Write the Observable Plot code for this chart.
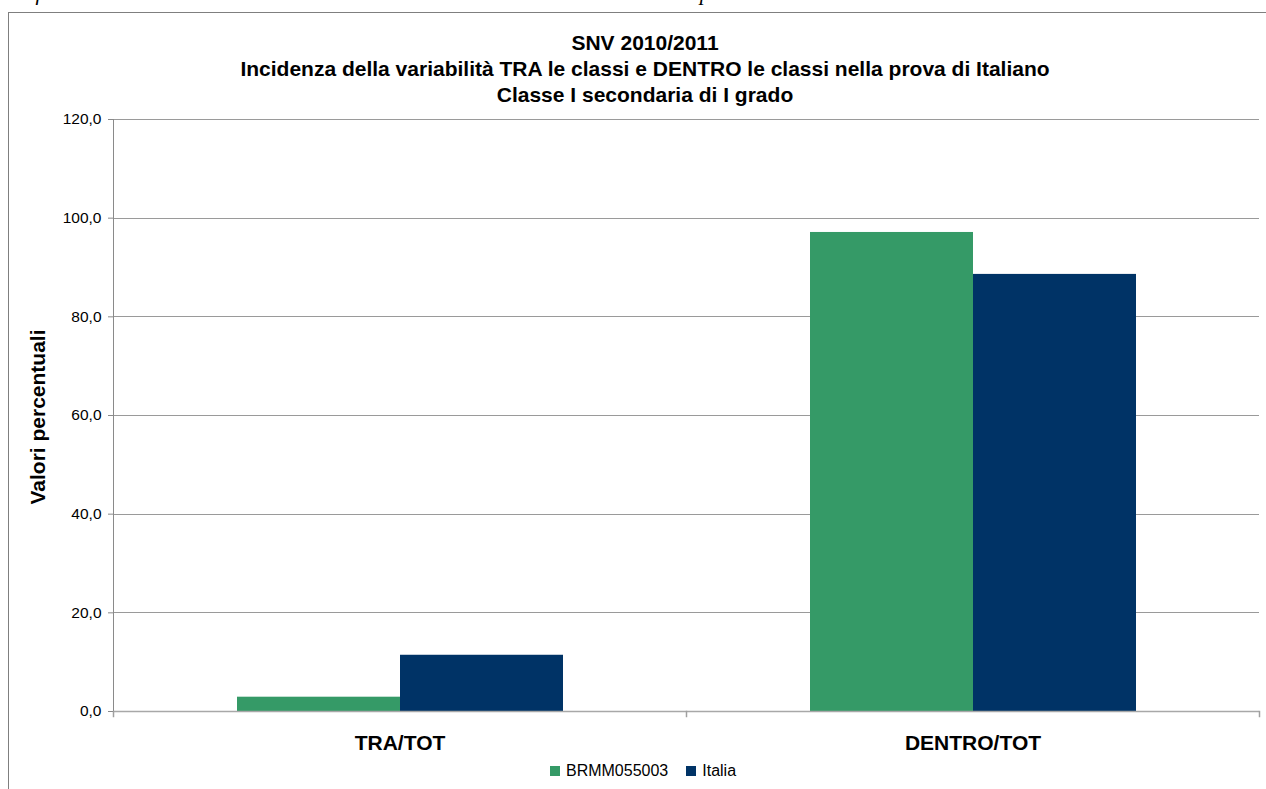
<!DOCTYPE html>
<html><head><meta charset="utf-8">
<script src="https://cdn.jsdelivr.net/npm/d3@7"></script>
<script src="https://cdn.jsdelivr.net/npm/@observablehq/plot@0.6"></script>
<style>
html,body{margin:0;padding:0;background:#fff;overflow:hidden;width:1266px;height:789px;}
body{position:relative;font-family:"Liberation Sans",Arial,sans-serif;color:#000;}
#cap{position:absolute;left:0;top:-18px;font-family:"Liberation Serif",serif;font-style:italic;font-size:22px;line-height:22px;white-space:nowrap;}
#frame{position:absolute;left:8px;top:12px;width:1400px;height:900px;border-left:1px solid #7f7f7f;border-top:1px solid #7f7f7f;}
#chart{position:absolute;left:0;top:0;}
#title{position:absolute;left:0;width:1290px;top:30px;text-align:center;font-weight:bold;font-size:21px;line-height:26px;}
#ytitle{position:absolute;left:38px;top:417px;transform:translate(-50%,-50%) rotate(-90deg);font-weight:bold;font-size:21px;white-space:nowrap;}
#legend{position:absolute;top:761px;left:0;width:1286px;display:flex;justify-content:center;align-items:center;font-size:16px;line-height:20px;}
#legend .item{display:flex;align-items:center;margin:0 9px;}
#legend .sw{width:10px;height:10px;margin-right:6px;}
</style>
</head><body>
<div id="cap"></div>
<div id="frame"></div>
<div id="chart"></div>
<div id="title"></div>
<div id="ytitle"></div>
<div id="legend"></div>
<script>
const captionText = "Grafico 4 – Incidenza della variabilità TRA le classi e DENTRO le classi nella prova di Italiano";
const titleLines = ["SNV 2010/2011", "Incidenza della variabilità TRA le classi e DENTRO le classi nella prova di Italiano", "Classe I secondaria di I grado"];
const yTitle = "Valori percentuali";
const categories = ["TRA/TOT", "DENTRO/TOT"];
const series = ["BRMM055003", "Italia"];
const valuesBRMM = [2.9, 97.1];
const valuesItalia = [11.4, 88.6];
const yTicks = [0, 20, 40, 60, 80, 100, 120];
const seriesColors = ["#359a67", "#003366"];

const seriesValues = [valuesBRMM, valuesItalia];
const data = categories.flatMap((c, i) => series.map((s, j) => ({category: c, series: s, value: seriesValues[j][i]})));

document.getElementById("cap").textContent = captionText;
document.getElementById("title").innerHTML = titleLines.map(t => `<div>${t}</div>`).join("");
document.getElementById("ytitle").textContent = yTitle;
document.getElementById("legend").innerHTML = series.map((s, j) =>
  `<div class="item"><div class="sw" style="background:${seriesColors[j]}"></div><span>${s}</span></div>`).join("");

const W = 1266, H = 789, mT = 119, mB = 78, mL = 113, mR = 7;
const plotH = H - mT - mB;
const fmt = d => d.toFixed(1).replace(".", ",");

const chart = Plot.plot({
  width: W, height: H,
  marginTop: mT, marginBottom: mB, marginLeft: mL, marginRight: mR,
  style: {fontFamily: "Liberation Sans, Arial, sans-serif", fontSize: "15.5px", background: "transparent", overflow: "visible", color: "#000"},
  fx: {domain: categories, padding: 0, label: null},
  x: {domain: series, paddingInner: 0, paddingOuter: 0.747, axis: null},
  y: {domain: [0, 120], label: null},
  color: {domain: series, range: seriesColors},
  marks: [
    Plot.ruleY(yTicks.filter(d => d > 0), {stroke: "#9a9a9a", strokeWidth: 1, shapeRendering: "crispEdges"}),
    Plot.barY(data, {fx: "category", x: "series", y: "value", fill: "series"}),
    Plot.ruleY([0], {stroke: "#a8a8a8", strokeWidth: 1.5}),
    Plot.frame({anchor: "left", facetAnchor: "left", stroke: "#8a8a8a", shapeRendering: "crispEdges"}),
    Plot.frame({anchor: "left", insetTop: plotH, insetBottom: -5, stroke: "#a0a0a0", strokeWidth: 1.5}),
    Plot.frame({anchor: "right", facetAnchor: "right", insetTop: plotH, insetBottom: -5, stroke: "#a0a0a0", strokeWidth: 1.5}),
    Plot.axisY({ticks: yTicks, tickFormat: fmt, tickSize: 5, tickPadding: 7, label: null, stroke: "#8a8a8a", fill: "#000", fontSize: 15.5}),
    Plot.axisFx({anchor: "bottom", tickSize: 0, tickPadding: 24, label: null, fontSize: 21, fontWeight: "bold", fill: "#000"})
  ]
});
document.getElementById("chart").appendChild(chart);
</script>
</body></html>
